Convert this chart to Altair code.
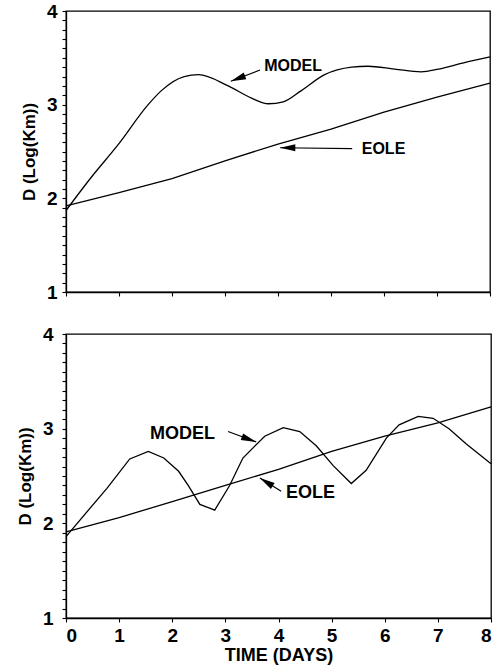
import altair as alt
import pandas as pd

# ---------------- data ----------------
top_eole_day = [0, 1, 2, 3, 4, 5, 6, 7, 8]
top_eole_val = [1.92, 2.06, 2.21, 2.40, 2.58, 2.74, 2.92, 3.08, 3.23]

top_model_day = [0.0, 0.47, 0.98, 1.55, 1.80, 2.23, 2.50, 3.06, 3.50, 3.82, 4.10,
                 4.44, 4.88, 5.39, 5.70, 6.20, 6.70, 7.03, 7.52, 8.0]
top_model_val = [1.87, 2.22, 2.57, 3.00, 3.15, 3.30, 3.32, 3.20, 3.07, 3.01, 3.03,
                 3.15, 3.32, 3.40, 3.41, 3.38, 3.35, 3.38, 3.45, 3.51]

bot_eole_day = [0, 1, 2, 3, 4, 5, 6, 7, 8]
bot_eole_val = [1.91, 2.06, 2.23, 2.40, 2.57, 2.76, 2.92, 3.06, 3.23]

bot_model_day = [0.0, 0.77, 1.20, 1.55, 1.84, 2.12, 2.30, 2.52, 2.80, 3.08, 3.33,
                 3.74, 4.09, 4.40, 4.71, 5.03, 5.37, 5.65, 6.03, 6.27, 6.63, 6.91,
                 7.21, 7.53, 8.0]
bot_model_val = [1.86, 2.37, 2.68, 2.76, 2.69, 2.55, 2.40, 2.20, 2.14, 2.40, 2.69,
                 2.92, 3.01, 2.97, 2.82, 2.61, 2.42, 2.56, 2.90, 3.04, 3.13, 3.11,
                 3.00, 2.84, 2.63]

# annotations: label, text position, arrow tail, arrow head, arrowhead angle
top_labels = ["MODEL", "EOLE"]
top_text_day = [3.74, 5.58]
top_text_val = [3.41, 2.53]
top_tail_day = [3.66, 5.40]
top_tail_val = [3.37, 2.53]
top_head_day = [3.11, 4.04]
top_head_val = [3.25, 2.54]
top_angle = [249, 270]

bot_labels = ["MODEL", "EOLE"]
bot_text_day = [1.58, 4.14]
bot_text_val = [2.94, 2.32]
bot_tail_day = [3.05, 4.05]
bot_tail_val = [2.97, 2.34]
bot_head_day = [3.58, 3.65]
bot_head_val = [2.86, 2.48]
bot_angle = [110, 302]

x_ticks = [0, 1, 2, 3, 4, 5, 6, 7, 8]
y_ticks = [round(1 + 0.1 * i, 1) for i in range(31)]

FONT = "Liberation Sans"
ARROW = "M0,0L0.75,3.2L-0.75,3.2Z"


def panel(eole_d, eole_v, model_d, model_v, labels, tx, ty, tld, tlv, hd, hv, ang,
          show_x, width, height, label_pad, text_size):
    x_axis = alt.Axis(values=x_ticks, labels=show_x, title="TIME (DAYS)" if show_x else None,
                      grid=False, tickSize=4, labelPadding=4, titlePadding=1,
                      labelFontSize=19, titleFontSize=18, format="d")
    y_axis = alt.Axis(values=y_ticks, grid=False, tickSize=4, labelPadding=label_pad,
                      title="D (Log(Km))", titleFontSize=17, titlePadding=8,
                      labelFontSize=19,
                      labelExpr="abs(datum.value - round(datum.value)) < 0.01 ? format(datum.value, 'd') : ''")
    xs = alt.Scale(domain=[0, 8], nice=False)
    ys = alt.Scale(domain=[1, 4], nice=False)

    def X(f):
        return alt.X(f, type="quantitative", scale=xs, axis=x_axis)

    def Y(f):
        return alt.Y(f, type="quantitative", scale=ys, axis=y_axis)

    eole = pd.DataFrame({"day": eole_d, "val": eole_v})
    model = pd.DataFrame({"day": model_d, "val": model_v})
    ann = pd.DataFrame({"label": labels, "day": tx, "val": ty,
                        "tday": tld, "tval": tlv, "hday": hd, "hval": hv, "angle": ang})

    l1 = alt.Chart(eole).mark_line(color="black", strokeWidth=1.3).encode(x=X("day"), y=Y("val"))
    l2 = alt.Chart(model).mark_line(color="black", strokeWidth=1.3,
                                    interpolate="monotone" if not show_x else "linear").encode(
        x=X("day"), y=Y("val"))
    shafts = alt.Chart(ann).mark_rule(color="black", strokeWidth=1.2).encode(
        x=X("tday"), y=Y("tval"), x2="hday", y2="hval")
    heads = alt.Chart(ann).mark_point(shape=ARROW, filled=True, color="black", size=90,
                                      opacity=1).encode(
        x=X("hday"), y=Y("hval"), angle=alt.Angle("angle:Q", scale=None))
    texts = alt.Chart(ann).mark_text(align="left", baseline="middle", font=FONT,
                                     fontWeight="bold", fontSize=text_size, color="black").encode(
        x=X("day"), y=Y("val"), text="label")
    return alt.layer(l1, l2, shafts, heads, texts).properties(width=width, height=height)


top = panel(top_eole_day, top_eole_val, top_model_day, top_model_val, top_labels,
            top_text_day, top_text_val, top_tail_day, top_tail_val, top_head_day, top_head_val,
            top_angle, False, 424, 281, 5, 16)
bottom = panel(bot_eole_day, bot_eole_val, bot_model_day, bot_model_val, bot_labels,
               bot_text_day, bot_text_val, bot_tail_day, bot_tail_val, bot_head_day, bot_head_val,
               bot_angle, True, 425, 284, 9, 18)

chart = alt.vconcat(top, bottom, spacing=21).properties(
    padding={"left": 15, "top": 1, "right": 2, "bottom": 2},
    background="white",
).configure_view(stroke="black", strokeWidth=1.3).configure_axis(
    domainColor="black", domainWidth=1.3, tickColor="black", tickWidth=1.1,
    labelColor="black", titleColor="black", labelFont=FONT, titleFont=FONT,
    labelFontWeight="bold", titleFontWeight="bold",
)

chart.save("out.html", embed_options={"renderer": "svg", "actions": False})
